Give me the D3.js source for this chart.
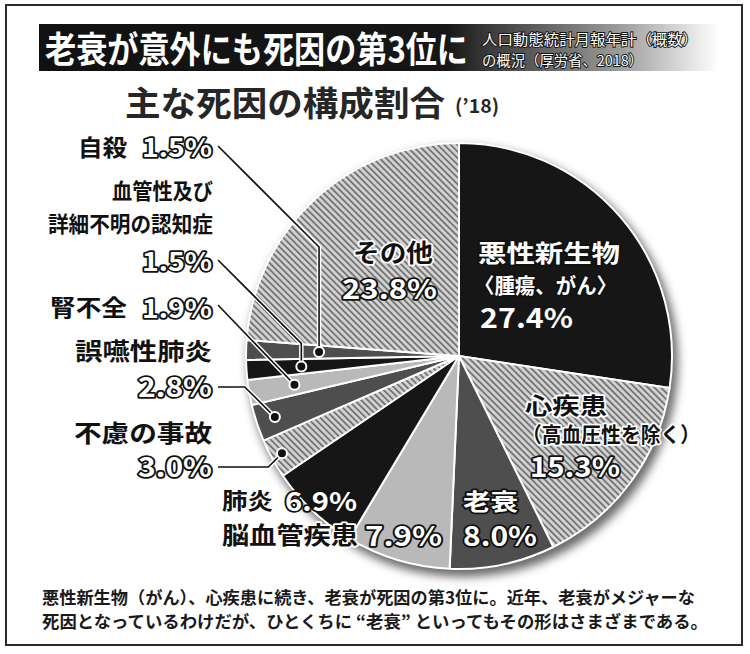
<!DOCTYPE html>
<html><head><meta charset="utf-8">
<script src="https://cdn.jsdelivr.net/npm/d3@7"></script>
<style>
html,body{margin:0;padding:0;background:#fff;}
text{font-family:"Noto Sans CJK JP","Noto Sans",sans-serif;}
</style></head>
<body>
<svg id="c" width="750" height="654"></svg>
<script>
// ---- data ----
const categories = ["悪性新生物","心疾患","老衰","脳血管疾患","肺炎","不慮の事故","誤嚥性肺炎","腎不全","血管性及び詳細不明の認知症","自殺","その他"];
const shares = [27.4, 15.3, 8.0, 7.9, 6.9, 3.0, 2.8, 1.9, 1.5, 1.5, 23.8];
const fillKinds = ["black","hatch","dark","light","black","hatch","dark","light","black","dark","hatch"];
const titleText = "老衰が意外にも死因の第3位に";
const sourceLines = ["人口動態統計月報年計（概数）","の概況（厚労省、2018）"];
const headingText = "主な死因の構成割合";
const headingYear = "(’18)";
const captionLines = ["悪性新生物（がん）、心疾患に続き、老衰が死因の第3位に。近年、老衰がメジャーな",
                      "死因となっているわけだが、ひとくちに “老衰” といってもその形はさまざまである。"];

const svg = d3.select("#c");
const defs = svg.append("defs");
const fmt = v => d3.format(".1f")(v) + "%";

// hatch pattern
const pat = defs.append("pattern").attr("id","hatch").attr("patternUnits","userSpaceOnUse")
  .attr("width",4.6).attr("height",4.6).attr("patternTransform","rotate(-45)");
pat.append("rect").attr("width",4.6).attr("height",4.6).attr("fill","#d2d2d2");
pat.append("rect").attr("x",0).attr("width",1.7).attr("height",4.6).attr("fill","#6e6e6e");

// title gradient
const g1 = defs.append("linearGradient").attr("id","tg").attr("x1","0").attr("x2","1");
[[0,"#111"],[0.6,"#161616"],[0.66,"#3a3a3a"],[0.85,"#9a9a9a"],[1,"#ffffff"]]
  .forEach(([o,c])=>g1.append("stop").attr("offset",o).attr("stop-color",c));

// shadow filter
const f = defs.append("filter").attr("id","sh").attr("x","-20%").attr("y","-20%").attr("width","140%").attr("height","140%");
f.append("feGaussianBlur").attr("stdDeviation",5);

// frame
svg.append("rect").attr("x",6).attr("y",5).attr("width",736).attr("height",640)
  .attr("fill","none").attr("stroke","#2a2a2a").attr("stroke-width",2);

// title bar
svg.append("rect").attr("x",39).attr("y",24).attr("width",680).attr("height",47).attr("fill","url(#tg)");
svg.append("text").attr("transform","translate(45,63) scale(1,1.16)").attr("font-size",31).attr("font-weight",700)
  .attr("fill","#fff").attr("textLength",423).attr("lengthAdjust","spacingAndGlyphs").text(titleText);
const srcW = [216, 161];
sourceLines.forEach((t,i)=>{
  svg.append("text").attr("x",482).attr("y",45+i*20.5).attr("font-size",14.5).attr("font-weight",400)
    .attr("fill","#fff").attr("stroke","#111").attr("stroke-width",1.8).attr("paint-order","stroke")
    .attr("textLength",srcW[i]).attr("lengthAdjust","spacingAndGlyphs").text(t);
});

// heading
svg.append("text").attr("x",125).attr("y",116).attr("font-size",34).attr("font-weight",700)
  .attr("fill","#262626").attr("textLength",320).attr("lengthAdjust","spacingAndGlyphs").text(headingText);
svg.append("text").attr("x",455).attr("y",113).attr("font-size",19).attr("font-weight",700)
  .attr("fill","#262626").attr("textLength",44).attr("lengthAdjust","spacingAndGlyphs").text(headingYear);

// pie
const cx = 459, cy = 356, R = 213;
const fillOf = k => ({black:"#161616", dark:"#4e4e4e", light:"#b9b9b9", hatch:"url(#hatch)"})[k];
const pieGen = d3.pie().sort(null).value(d=>d.v);
const data = categories.map((c,i)=>({c, v:shares[i], k:fillKinds[i]}));
const arcs = pieGen(data);
const arc = d3.arc().innerRadius(0).outerRadius(R);
const pg = svg.append("g").attr("transform",`translate(${cx},${cy})`);
pg.append("circle").attr("cx",4).attr("cy",6).attr("r",R+2).attr("fill","#6a6a6a").attr("filter","url(#sh)");
pg.selectAll("path.s").data(arcs).join("path").attr("class","s")
  .attr("d",arc).attr("fill",d=>fillOf(d.data.k)).attr("stroke","#fff").attr("stroke-width",2).attr("stroke-linejoin","bevel");

// leader lines to small slices
const leaders = [
  {c:"自殺", r:140, sx:218, sy:146, type:"diagV"},
  {c:"血管性及び詳細不明の認知症", r:158, sx:218, sy:260, type:"diagV"},
  {c:"腎不全", r:167, sx:218, sy:305, type:"diag"},
  {c:"誤嚥性肺炎", r:194, sx:218, sy:387, type:"hDiag"},
  {c:"不慮の事故", r:202, sx:218, sy:467, type:"hDiag"}
];
const lg = svg.append("g");
leaders.forEach(L=>{
  const a = arcs.find(d=>d.data.c===L.c);
  const [dx,dy] = d3.arc().innerRadius(L.r).outerRadius(L.r).centroid(a);
  const px = cx+dx, py = cy+dy;
  let pts;
  if(L.type==="diagV"){ pts=[[L.sx,L.sy],[px, L.sy+(px-L.sx)],[px,py]]; }
  else if(L.type==="diag"){ pts=[[L.sx,L.sy],[px,py]]; }
  else { const ex = px - Math.abs(py-L.sy); pts=[[L.sx,L.sy],[ex,L.sy],[px,py]]; }
  const line = d3.line();
  lg.append("path").attr("d",line(pts)).attr("fill","none").attr("stroke","#fff").attr("stroke-width",4.5);
  lg.append("path").attr("d",line(pts)).attr("fill","none").attr("stroke","#111").attr("stroke-width",1.6);
  lg.append("circle").attr("cx",px).attr("cy",py).attr("r",5).attr("fill","#111").attr("stroke","#fff").attr("stroke-width",2);
});

// labels
const val = c => fmt(shares[categories.indexOf(c)]);
function label(t,x,y,size,w,style){
  const el = svg.append("text").attr("x",x).attr("y",y).attr("font-size",size).attr("font-weight",700)
    .attr("textLength",w).attr("lengthAdjust","spacingAndGlyphs").text(t);
  if(style==="black"){ el.attr("fill","#111"); }
  else if(style==="halo"){ el.attr("fill","#111").attr("stroke","#fff").attr("stroke-width",3.5).attr("paint-order","stroke").attr("stroke-linejoin","round"); }
  else if(style==="out"){ el.attr("fill","#fff").attr("stroke","#111").attr("stroke-width",3.5).attr("paint-order","stroke").attr("stroke-linejoin","round"); }
  else { el.attr("fill","#fff"); }
  return el;
}
label("自殺",78,156,23,49,"black");
label(val("自殺"),142,157,26,70,"out");
label("血管性及び",112,199,22,101,"black");
label("詳細不明の認知症",48,232,22,165,"black");
label(val("血管性及び詳細不明の認知症"),142,271,26,70,"out");
label("腎不全",50,316,23,77,"black");
label(val("腎不全"),142,318,26,70,"out");
label("誤嚥性肺炎",75,360,24,137,"black");
label(val("誤嚥性肺炎"),138,397,27,74,"out");
label("不慮の事故",74,442,24,138,"black");
label(val("不慮の事故"),138,477,27,74,"out");
label("肺炎",222,509,23,51,"black");
label(val("肺炎"),285,511,26,72,"out");
label("脳血管疾患",222,544,24,136,"halo");
label(val("脳血管疾患"),365,546,27,77,"out");
label("老衰",463,510,23,55,"out");
label(val("老衰"),463,546,27,74,"out");
label("心疾患",525,414,23,82,"halo");
label("（高血圧性を除く）",522,442,21,178,"halo");
label(val("心疾患"),530,477,27,90,"out");
label("悪性新生物",478,262,24,142,"out");
label("〈腫瘍、がん〉",474,293,21,143,"out");
label(val("悪性新生物"),480,328,27,93,"white");
label("その他",353,262,25,80,"halo");
label(val("その他"),342,299,27,95,"out");

// caption
const capW = [653, 666];
captionLines.forEach((t,i)=>{
  svg.append("text").attr("x",42).attr("y",604+i*24).attr("font-size",17).attr("font-weight",700)
    .attr("fill","#1a1a1a").attr("textLength",capW[i]).attr("lengthAdjust","spacingAndGlyphs").text(t);
});
</script>
</body></html>
